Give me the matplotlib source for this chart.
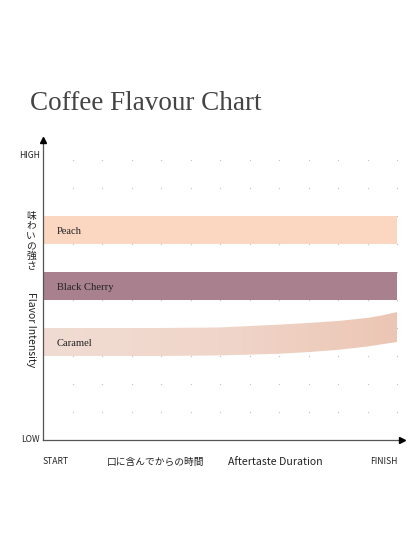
import numpy as np
import matplotlib.pyplot as plt
from matplotlib.colors import LinearSegmentedColormap

# flavour bands (y = intensity, x = time after tasting)
band_names = ['Peach', 'Black Cherry', 'Caramel']
peach_low, peach_high = 7.0, 8.0
cherry_low, cherry_high = 5.0, 6.0

caramel_x = [0, 2, 4, 6, 8, 9, 10, 11, 11.5, 12]
caramel_top = [4.0, 4.0, 4.0, 4.02, 4.12, 4.18, 4.25, 4.36, 4.45, 4.57]
caramel_bottom = [3.0, 3.0, 3.0, 3.02, 3.08, 3.14, 3.22, 3.34, 3.42, 3.5]

x_end = 12
grid_cols = list(range(1, 13))
grid_rows = list(range(1, 11))

jp_font = ['Noto Sans CJK JP', 'DejaVu Sans']
serif_font = ['Liberation Serif', 'DejaVu Serif']

W, H = 416, 555
fig = plt.figure(figsize=(W / 100, H / 100), dpi=100)

# axes placement in pixels: origin at (43, 440), 29.5 px per x unit, 28 px per y unit
x0px, y0px = 43, 440
xu, yu = 29.5, 28.0
xmax, ymax = 12.27, 10.8
ax = fig.add_axes([x0px / W, (H - y0px) / H, xmax * xu / W, ymax * yu / H])
ax.set_xlim(0, xmax)
ax.set_ylim(0, ymax)

# dotted grid
gx, gy = np.meshgrid(grid_cols, grid_rows)
ax.scatter(gx.ravel(), gy.ravel(), s=0.9, color='#c4c4c4', zorder=1, linewidths=0)

# bands
ax.fill_between([0, x_end], peach_low, peach_high, color='#fbd6c1', lw=0, zorder=2)
ax.fill_between([0, x_end], cherry_low, cherry_high, color='#a8808e', lw=0, zorder=2)

poly = ax.fill_between(caramel_x, caramel_bottom, caramel_top, color='none', lw=0, zorder=2)
cmap = LinearSegmentedColormap.from_list('caramel', ['#f1dcd3', '#f0d6ca', '#ecc6b4'])
grad = np.linspace(0, 1, 256).reshape(1, -1)
img = ax.imshow(grad, extent=[0, x_end, 2.9, 4.7], aspect='auto', cmap=cmap,
                origin='lower', zorder=2)
img.set_clip_path(poly.get_paths()[0], transform=ax.transData)

label_y = [7.45, 5.45, 3.45]
for name, ly in zip(band_names, label_y):
    ax.text(0.47, ly, name, fontsize=7.6, family=serif_font, color='#222222',
            va='center', ha='left', zorder=3)

# axes with arrows
for s in ax.spines.values():
    s.set_visible(False)
ax.set_xticks([])
ax.set_yticks([])
ax.plot([0, 0], [0, ymax - 0.15], color='#555555', lw=0.9, clip_on=False, zorder=4)
ax.plot([0, xmax - 0.15], [0, 0], color='#555555', lw=0.9, clip_on=False, zorder=4)
ax.plot(0, ymax - 0.1, marker='^', ms=4, color='black', clip_on=False, zorder=5)
ax.plot(xmax - 0.1, 0, marker='>', ms=4, color='black', clip_on=False, zorder=5)

# title
fig.text(30 / W, 1 - 104 / H, 'Coffee Flavour Chart', fontsize=19.5, family=serif_font,
         color='#444444', ha='left', va='center')

# y axis labels
fig.text(40 / W, 1 - 155 / H, 'HIGH', fontsize=6.2, family=jp_font, color='#222222',
         ha='right', va='center')
fig.text(40 / W, 1 - 440 / H, 'LOW', fontsize=6.2, family=jp_font, color='#222222',
         ha='right', va='center')
fig.text(31 / W, 1 - 241 / H, '\n'.join('味わいの強さ'), fontsize=7, family=jp_font,
         color='#222222', ha='center', va='center', linespacing=1.02)
fig.text(31 / W, 1 - 330 / H, 'Flavor Intensity', fontsize=7.5, family=jp_font,
         color='#222222', ha='center', va='center', rotation=270)

# x axis labels
xl_y = 1 - 462 / H
fig.text(56 / W, xl_y, 'START', fontsize=6.2, family=jp_font, color='#222222',
         ha='center', va='center')
fig.text(155 / W, xl_y, '口に含んでからの時間', fontsize=7, family=jp_font,
         color='#222222', ha='center', va='center')
fig.text(275 / W, xl_y, 'Aftertaste Duration', fontsize=7.6, family=jp_font,
         color='#222222', ha='center', va='center')
fig.text(384 / W, xl_y, 'FINISH', fontsize=6.2, family=jp_font, color='#222222',
         ha='center', va='center')

fig.savefig('out.png', dpi=100)
